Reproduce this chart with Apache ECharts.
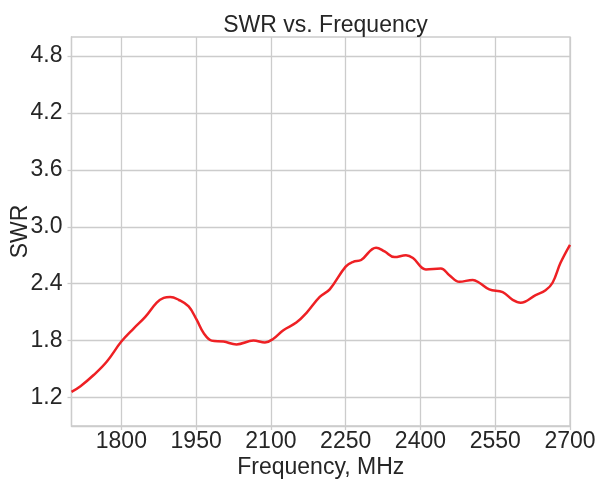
<!DOCTYPE html>
<html>
<head>
<meta charset="utf-8">
<script src="https://cdn.jsdelivr.net/npm/echarts@6/dist/echarts.min.js"></script>
<style>
  html, body { margin: 0; padding: 0; background: #fff; }
  #chart { width: 599px; height: 479px; }
</style>
</head>
<body>
<div id="chart"></div>
<script>
// frequency samples (MHz)
var freqs = [1700, 1718, 1745, 1771, 1800, 1825, 1848, 1871, 1885, 1898, 1915, 1935,
  1951, 1965, 1981, 2005, 2031, 2065, 2088, 2105, 2125, 2151, 2171, 2198, 2218,
  2250, 2265, 2281, 2311, 2328, 2348, 2371, 2385, 2411, 2441, 2458, 2478, 2505,
  2518, 2538, 2565, 2585, 2601, 2631, 2651, 2665, 2681, 2700];
var swr = [1.26, 1.32, 1.44, 1.58, 1.79, 1.93, 2.05, 2.20, 2.25, 2.26, 2.23, 2.16,
  2.02, 1.88, 1.80, 1.79, 1.76, 1.80, 1.78, 1.82, 1.91, 1.99, 2.09, 2.26, 2.34,
  2.58, 2.63, 2.65, 2.78, 2.74, 2.68, 2.70, 2.67, 2.55, 2.56, 2.49, 2.42, 2.44,
  2.41, 2.34, 2.31, 2.23, 2.20, 2.28, 2.33, 2.41, 2.62, 2.81];
var xTicks = [1800, 1950, 2100, 2250, 2400, 2550, 2700];
var yTicks = [1.2, 1.8, 2.4, 3.0, 3.6, 4.2, 4.8];

var points = freqs.map(function (f, i) { return [f, swr[i]]; });

var txt = '#262626';
var gridCol = '#cccccc';
var font = 'Liberation Sans, Arial, sans-serif';
var fs = 23;

var chart = echarts.init(document.getElementById('chart'));
chart.setOption({
  animation: false,
  title: {
    text: 'SWR vs. Frequency',
    left: 320.5, top: 9, textAlign: 'center',
    textStyle: { color: txt, fontSize: fs, fontWeight: 'normal', fontFamily: font }
  },
  grid: {
    left: 71.5, right: 29, top: 37, bottom: 53,
    outerBoundsMode: 'none',
    containLabel: false,
    show: true, borderColor: gridCol, borderWidth: 1.3
  },
  xAxis: {
    type: 'value', min: 1700, max: 2700,
    name: 'Frequency, MHz', nameLocation: 'middle', nameGap: 30,
    nameMoveOverlap: false,
    nameTextStyle: { color: txt, fontSize: fs, fontFamily: font },
    axisLine: { show: true, lineStyle: { color: gridCol, width: 1.3 } },
    axisTick: { show: true, length: 4, customValues: xTicks, lineStyle: { color: gridCol, width: 1.3 } },
    axisLabel: {
      customValues: xTicks, color: txt, fontSize: fs, fontFamily: font, margin: 4,
      formatter: function (v) { return String(v); }
    },
    splitLine: { show: true, lineStyle: { color: gridCol, width: 1.3 } }
  },
  yAxis: {
    type: 'value', min: 0.9, max: 5.0,
    name: 'SWR', nameLocation: 'middle', nameGap: 39,
    nameMoveOverlap: false,
    nameTextStyle: { color: txt, fontSize: fs, fontFamily: font },
    axisLine: { show: true, lineStyle: { color: gridCol, width: 1.3 } },
    axisTick: { show: true, length: 4, customValues: yTicks, lineStyle: { color: gridCol, width: 1.3 } },
    axisLabel: {
      customValues: yTicks, color: txt, fontSize: fs, fontFamily: font, margin: 9,
      formatter: function (v) { return v.toFixed(1); }
    },
    splitLine: { show: true, lineStyle: { color: gridCol, width: 1.3 } }
  },
  series: [{
    type: 'line',
    data: points,
    smooth: 0.4,
    showSymbol: false,
    lineStyle: { color: '#ee2024', width: 2.5 }
  }]
});
</script>
</body>
</html>
